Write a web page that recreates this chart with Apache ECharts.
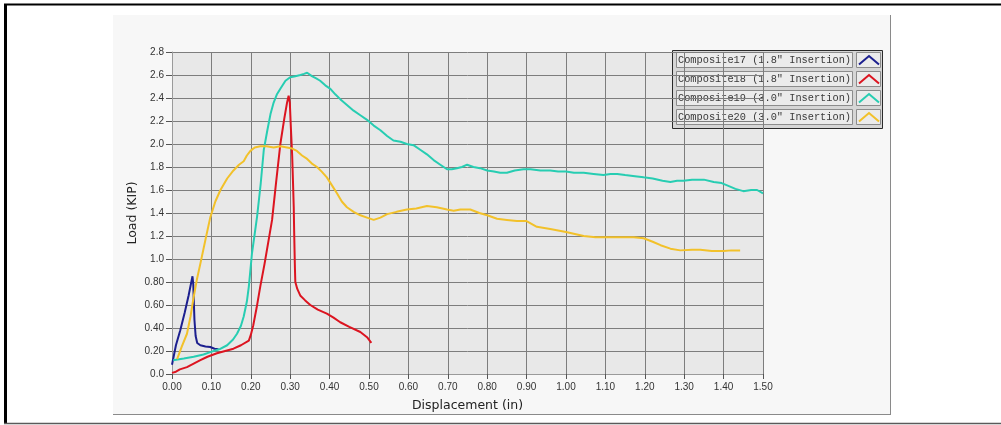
<!DOCTYPE html>
<html>
<head>
<meta charset="utf-8">
<script src="https://cdn.jsdelivr.net/npm/echarts@6/dist/echarts.min.js"></script>
<style>
  html, body { margin: 0; padding: 0; background: #ffffff; }
  #chart { width: 1001px; height: 425px; }
</style>
</head>
<body>
<div id="chart"></div>
<script>
// Load–displacement curves for four composite specimens
const seriesNames = [
  'Composite17 (1.8" Insertion)',
  'Composite18 (1.8" Insertion)',
  'Composite19 (3.0" Insertion)',
  'Composite20 (3.0" Insertion)'
];

const c17Disp = [0.000, 0.010, 0.021, 0.032, 0.042, 0.052, 0.054, 0.055, 0.057, 0.060, 0.064, 0.072, 0.085, 0.097, 0.108, 0.118];
const c17Load = [0.08, 0.25, 0.38, 0.53, 0.68, 0.85, 0.78, 0.67, 0.47, 0.33, 0.27, 0.25, 0.24, 0.235, 0.22, 0.215];

const c18Disp = [0.000, 0.010, 0.020, 0.038, 0.055, 0.072, 0.090, 0.114, 0.135, 0.156, 0.175, 0.195, 0.200, 0.206, 0.215, 0.224, 0.235, 0.245, 0.254, 0.264, 0.275, 0.285, 0.292, 0.296, 0.299, 0.302, 0.305, 0.307, 0.309, 0.310, 0.311, 0.312, 0.313, 0.318, 0.326, 0.338, 0.351, 0.370, 0.393, 0.410, 0.427, 0.450, 0.478, 0.495, 0.506];
const c18Load = [0.01, 0.02, 0.04, 0.06, 0.09, 0.12, 0.15, 0.18, 0.20, 0.22, 0.25, 0.29, 0.34, 0.42, 0.58, 0.76, 0.96, 1.16, 1.34, 1.66, 2.00, 2.22, 2.36, 2.42, 2.36, 2.12, 1.90, 1.68, 1.45, 1.25, 1.08, 0.92, 0.80, 0.74, 0.68, 0.64, 0.60, 0.56, 0.525, 0.49, 0.45, 0.41, 0.365, 0.32, 0.27];

const c19Disp = [0.003, 0.030, 0.055, 0.080, 0.097, 0.120, 0.140, 0.155, 0.165, 0.175, 0.182, 0.190, 0.195, 0.203, 0.210, 0.216, 0.225, 0.233, 0.242, 0.250, 0.258, 0.266, 0.275, 0.288, 0.300, 0.313, 0.326, 0.335, 0.343, 0.355, 0.366, 0.376, 0.389, 0.402, 0.415, 0.427, 0.444, 0.461, 0.478, 0.495, 0.512, 0.529, 0.546, 0.562, 0.580, 0.596, 0.613, 0.630, 0.647, 0.664, 0.681, 0.698, 0.710, 0.723, 0.736, 0.749, 0.765, 0.782, 0.800, 0.817, 0.833, 0.850, 0.870, 0.892, 0.910, 0.935, 0.960, 0.980, 1.000, 1.020, 1.045, 1.070, 1.095, 1.113, 1.130, 1.150, 1.175, 1.197, 1.220, 1.245, 1.265, 1.282, 1.298, 1.320, 1.350, 1.375, 1.395, 1.409, 1.430, 1.450, 1.470, 1.485, 1.500];
const c19Load = [0.12, 0.135, 0.15, 0.17, 0.19, 0.215, 0.25, 0.30, 0.35, 0.42, 0.50, 0.63, 0.76, 1.05, 1.22, 1.37, 1.65, 1.95, 2.12, 2.26, 2.36, 2.43, 2.48, 2.55, 2.58, 2.59, 2.60, 2.61, 2.62, 2.59, 2.57, 2.55, 2.51, 2.48, 2.43, 2.39, 2.34, 2.29, 2.25, 2.21, 2.16, 2.12, 2.07, 2.03, 2.02, 2.00, 1.99, 1.95, 1.91, 1.86, 1.82, 1.78, 1.78, 1.79, 1.80, 1.82, 1.80, 1.79, 1.77, 1.76, 1.75, 1.75, 1.77, 1.78, 1.78, 1.77, 1.77, 1.76, 1.76, 1.75, 1.75, 1.74, 1.73, 1.74, 1.74, 1.73, 1.72, 1.71, 1.70, 1.68, 1.67, 1.68, 1.68, 1.69, 1.69, 1.67, 1.66, 1.64, 1.61, 1.59, 1.60, 1.60, 1.57];

const c20Disp = [0.013, 0.025, 0.038, 0.047, 0.055, 0.063, 0.072, 0.085, 0.097, 0.110, 0.123, 0.140, 0.156, 0.170, 0.182, 0.190, 0.199, 0.210, 0.224, 0.240, 0.258, 0.275, 0.292, 0.305, 0.317, 0.330, 0.343, 0.355, 0.368, 0.380, 0.393, 0.406, 0.419, 0.431, 0.444, 0.461, 0.478, 0.495, 0.512, 0.529, 0.546, 0.570, 0.596, 0.620, 0.647, 0.672, 0.698, 0.715, 0.732, 0.757, 0.780, 0.800, 0.825, 0.850, 0.875, 0.900, 0.926, 0.960, 1.000, 1.045, 1.075, 1.104, 1.140, 1.172, 1.197, 1.220, 1.240, 1.265, 1.290, 1.320, 1.341, 1.370, 1.400, 1.420, 1.442];
const c20Load = [0.13, 0.24, 0.35, 0.50, 0.67, 0.82, 0.96, 1.17, 1.36, 1.50, 1.60, 1.70, 1.77, 1.82, 1.85, 1.90, 1.94, 1.97, 1.98, 1.98, 1.97, 1.98, 1.97, 1.96, 1.94, 1.90, 1.87, 1.83, 1.80, 1.76, 1.71, 1.64, 1.57, 1.50, 1.45, 1.41, 1.38, 1.36, 1.34, 1.36, 1.39, 1.41, 1.43, 1.44, 1.46, 1.45, 1.43, 1.42, 1.43, 1.43, 1.40, 1.38, 1.35, 1.34, 1.33, 1.33, 1.28, 1.26, 1.235, 1.20, 1.19, 1.19, 1.19, 1.19, 1.18, 1.15, 1.12, 1.09, 1.075, 1.08, 1.08, 1.07, 1.07, 1.075, 1.075];

const xTickLabels = ['0.00', '0.10', '0.20', '0.30', '0.40', '0.50', '0.60', '0.70', '0.80', '0.90', '1.00', '1.10', '1.20', '1.30', '1.40', '1.50'];
const yTickLabels = ['0.0', '0.20', '0.40', '0.60', '0.80', '1.0', '1.2', '1.4', '1.6', '1.8', '2.0', '2.2', '2.4', '2.6', '2.8'];

const lineColors = ['#1c1f8f', '#dc1420', '#27cdb2', '#f2c12a'];

const zip = (xs, ys) => xs.map((x, i) => [x, ys[i]]);
const curves = [
  zip(c17Disp, c17Load),
  zip(c18Disp, c18Load),
  zip(c19Disp, c19Load),
  zip(c20Disp, c20Load)
];

// Boxed legend: one sunken row per series with a caret-shaped swatch
function legendGraphic() {
  const x0 = 672, y0 = 50, w = 210, rowH = 19;
  const children = [{
    type: 'rect',
    shape: { x: x0 + 0.5, y: y0 + 0.5, width: w, height: 4 * rowH + 2 },
    style: { fill: '#d6d6d6', stroke: '#2a2a2a', lineWidth: 1 }
  }];
  seriesNames.forEach((name, i) => {
    const ry = y0 + 2.5 + i * rowH;
    children.push({
      type: 'rect',
      shape: { x: x0 + 4.5, y: ry, width: 176, height: 15 },
      style: { fill: '#ebebeb', stroke: '#8c8c8c', lineWidth: 1 }
    });
    children.push({
      type: 'text',
      style: {
        x: x0 + 6, y: ry + 8, text: name, fill: '#3a3a3a',
        font: '10.3px "Liberation Mono", "DejaVu Sans Mono", monospace',
        textVerticalAlign: 'middle', verticalAlign: 'middle'
      }
    });
    children.push({
      type: 'rect',
      shape: { x: x0 + 184.5, y: ry, width: 24, height: 15 },
      style: { fill: '#ebebeb', stroke: '#8c8c8c', lineWidth: 1 }
    });
    children.push({
      type: 'polyline',
      shape: { points: [[x0 + 187, ry + 12], [x0 + 197, ry + 3.5], [x0 + 207, ry + 12]] },
      style: { stroke: lineColors[i], lineWidth: 2, fill: null }
    });
  });
  return { type: 'group', z: 100, children };
}

const chart = echarts.init(document.getElementById('chart'), null, { renderer: 'canvas' });

chart.setOption({
  animation: false,
  backgroundColor: '#ffffff',
  graphic: [
    // outer frame
    { type: 'rect', z: -20, shape: { x: 0, y: 0, width: 1001, height: 425 }, style: { fill: '#ffffff' } },
    { type: 'line', z: -5, shape: { x1: 4, y1: 4.5, x2: 1001, y2: 4.5 }, style: { stroke: '#000000', lineWidth: 2 } },
    { type: 'line', z: -5, shape: { x1: 5.5, y1: 4, x2: 5.5, y2: 424 }, style: { stroke: '#000000', lineWidth: 3 } },
    { type: 'line', z: -5, shape: { x1: 4, y1: 423.5, x2: 1001, y2: 423.5 }, style: { stroke: '#5a5a5a', lineWidth: 1.5 } },
    // chart panel
    { type: 'rect', z: -10, shape: { x: 113, y: 15, width: 777, height: 399 }, style: { fill: '#f7f7f7' } },
    { type: 'line', z: -9, shape: { x1: 890.5, y1: 15, x2: 890.5, y2: 414 }, style: { stroke: '#8a8a8a', lineWidth: 1 } },
    { type: 'line', z: -9, shape: { x1: 113, y1: 414.5, x2: 891, y2: 414.5 }, style: { stroke: '#8a8a8a', lineWidth: 1 } },
    legendGraphic()
  ],
  grid: {
    left: 172, top: 52, width: 591, height: 322,
    show: true, backgroundColor: '#e8e8e8', borderWidth: 0
  },
  xAxis: {
    type: 'value', min: 0, max: 1.5, interval: 0.1,
    name: 'Displacement (in)', nameLocation: 'middle', nameGap: 25, nameMoveOverlap: false,
    nameTextStyle: { fontFamily: 'DejaVu Sans', fontSize: 12.5, color: '#222' },
    axisLine: { show: true, lineStyle: { color: '#9a9a9a', width: 1 } },
    axisTick: { show: true, length: 5, lineStyle: { color: '#555' } },
    axisLabel: {
      margin: 8, color: '#333', fontFamily: 'Liberation Sans', fontSize: 10,
      formatter: v => xTickLabels[Math.round(v / 0.1)]
    },
    splitLine: { show: true, lineStyle: { color: '#7d7d7d', width: 1 } }
  },
  yAxis: {
    type: 'value', min: 0, max: 2.8, interval: 0.2,
    name: 'Load (KIP)', nameLocation: 'middle', nameGap: 33, nameRotate: 90, nameMoveOverlap: false,
    nameTextStyle: { fontFamily: 'DejaVu Sans', fontSize: 12.5, color: '#222' },
    axisLine: { show: true, lineStyle: { color: '#9a9a9a', width: 1 } },
    axisTick: { show: true, length: 6, lineStyle: { color: '#555' } },
    axisLabel: {
      margin: 8, color: '#333', fontFamily: 'Liberation Sans', fontSize: 10,
      formatter: v => yTickLabels[Math.round(v / 0.2)]
    },
    splitLine: { show: true, lineStyle: { color: '#7d7d7d', width: 1 } }
  },
  series: curves.map((data, i) => ({
    name: seriesNames[i],
    type: 'line',
    data,
    showSymbol: false,
    smooth: false,
    clip: true,
    lineStyle: { color: lineColors[i], width: 2 },
    itemStyle: { color: lineColors[i] },
    z: 3 + i
  }))
});
</script>
</body>
</html>
